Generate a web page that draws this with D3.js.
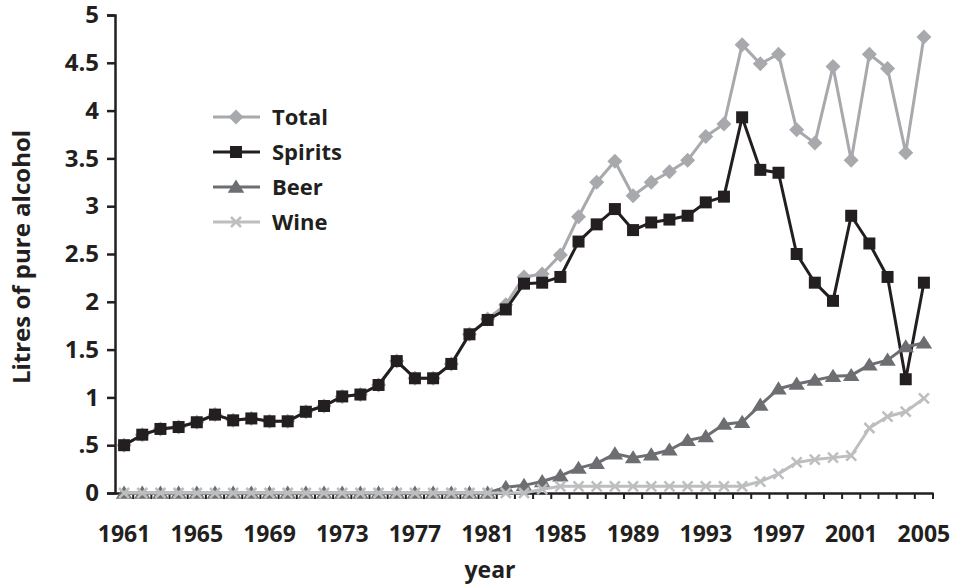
<!DOCTYPE html>
<html>
<head>
<meta charset="utf-8">
<script src="https://cdn.jsdelivr.net/npm/d3@7"></script>
<style>
  body { margin: 0; background: #fff; }
  text { font-family: "Open Sans", sans-serif; font-weight: 700; fill: #231f20; }
</style>
</head>
<body>
<div id="chart"></div>
<script>
"use strict";

const years = d3.range(1961, 2006);
const yTicks = [0, 0.5, 1, 1.5, 2, 2.5, 3, 3.5, 4, 4.5, 5];
const xLabels = [1961, 1965, 1969, 1973, 1977, 1981, 1985, 1989, 1993, 1997, 2001, 2005];

const spirits = [0.50, 0.61, 0.67, 0.69, 0.74, 0.82, 0.76, 0.78, 0.75, 0.75,
  0.85, 0.91, 1.01, 1.03, 1.13, 1.38, 1.20, 1.20, 1.35, 1.66,
  1.81, 1.92, 2.19, 2.20, 2.26, 2.63, 2.81, 2.97, 2.75, 2.83,
  2.86, 2.90, 3.04, 3.10, 3.93, 3.38, 3.35, 2.50, 2.20, 2.01,
  2.90, 2.61, 2.26, 1.19, 2.20];
const beer = [0, 0, 0, 0, 0, 0, 0, 0, 0, 0,
  0, 0, 0, 0, 0, 0, 0, 0, 0, 0,
  0, 0.06, 0.08, 0.12, 0.18, 0.26, 0.31, 0.41, 0.37, 0.40,
  0.45, 0.55, 0.59, 0.72, 0.74, 0.92, 1.09, 1.14, 1.18, 1.22,
  1.23, 1.34, 1.39, 1.53, 1.57];
const wine = [0, 0, 0, 0, 0, 0, 0, 0, 0, 0,
  0, 0, 0, 0, 0, 0, 0, 0, 0, 0,
  0, 0, 0, 0.04, 0.07, 0.07, 0.07, 0.07, 0.07, 0.07,
  0.07, 0.07, 0.07, 0.07, 0.07, 0.12, 0.20, 0.32, 0.35, 0.37,
  0.39, 0.68, 0.80, 0.85, 0.99];
const total = [0.50, 0.61, 0.67, 0.69, 0.74, 0.82, 0.76, 0.78, 0.75, 0.75,
  0.85, 0.91, 1.01, 1.03, 1.13, 1.38, 1.20, 1.20, 1.35, 1.66,
  1.82, 1.97, 2.26, 2.29, 2.49, 2.89, 3.25, 3.47, 3.11, 3.25,
  3.36, 3.48, 3.73, 3.86, 4.69, 4.49, 4.59, 3.80, 3.66, 4.46,
  3.48, 4.59, 4.44, 3.56, 4.77];

const width = 955, height = 585;
const plotLeft = 115, plotRight = 933, plotTop = 15, plotBottom = 493;
const fontSize = 23;

// marker shapes
function diamond(r) { return `M0,${-r}L${r},0L0,${r}L${-r},0Z`; }
function square(r) { return `M${-r},${-r}H${r}V${r}H${-r}Z`; }
function triangle(r) { return `M0,${-r}L${r * 1.1},${r * 0.75}L${-r * 1.1},${r * 0.75}Z`; }
function cross(r) { return `M${-r},${-r}L${r},${r}M${r},${-r}L${-r},${r}`; }

const series = [
  { name: "Total", values: total, color: "#a7a9ac", marker: diamond(7.5), filled: true },
  { name: "Spirits", values: spirits, color: "#231f20", marker: square(6), filled: true },
  { name: "Beer", values: beer, color: "#6d6e71", marker: triangle(7.5), filled: true },
  { name: "Wine", values: wine, color: "#bcbec0", marker: cross(5), filled: false }
];

const svg = d3.select("#chart").append("svg")
  .attr("width", width)
  .attr("height", height);

const x = d3.scaleBand().domain(years).range([plotLeft, plotRight]);
const cx = d => x(d) + x.bandwidth() / 2;
const y = d3.scaleLinear().domain([0, 5]).range([plotBottom, plotTop]);

// Y axis
const yAxis = svg.append("g")
  .attr("transform", `translate(${plotLeft},0)`)
  .call(d3.axisLeft(y).tickValues(yTicks).tickSize(8).tickPadding(8)
    .tickFormat(d => d === 0.5 ? ".5" : String(d)));
yAxis.selectAll("path, line").attr("stroke", "#231f20").attr("stroke-width", 2.5);
yAxis.selectAll("text").attr("font-size", fontSize + 1).attr("font-family", null);

// X axis: labels centred on categories, ticks on category boundaries
const xAxis = svg.append("g")
  .attr("transform", `translate(0,${plotBottom})`)
  .call(d3.axisBottom(x).tickValues(xLabels).tickSize(0).tickPadding(33));
xAxis.select(".domain").attr("stroke", "#231f20").attr("stroke-width", 2.5);
xAxis.selectAll("text").attr("font-size", fontSize).attr("font-family", null);

const bounds = years.map(d => x(d)).concat([plotRight]);
svg.append("g").selectAll("line")
  .data(bounds.slice(1))
  .join("line")
  .attr("x1", d => d).attr("x2", d => d)
  .attr("y1", plotBottom).attr("y2", plotBottom + 6)
  .attr("stroke", "#231f20")
  .attr("stroke-width", 2);

// Axis titles
svg.append("text")
  .attr("transform", "translate(30,257) rotate(-90)")
  .attr("text-anchor", "middle")
  .attr("font-size", fontSize + 1)
  .text("Litres of pure alcohol");

svg.append("text")
  .attr("x", 490)
  .attr("y", 578)
  .attr("text-anchor", "middle")
  .attr("font-size", fontSize)
  .text("year");

// Lines and markers
const line = d3.line().x((d, i) => cx(years[i])).y(d => y(d));

series.forEach(s => {
  const g = svg.append("g");
  g.append("path")
    .attr("d", line(s.values))
    .attr("fill", "none")
    .attr("stroke", s.color)
    .attr("stroke-width", 3)
    .attr("stroke-linejoin", "round");
  g.selectAll("path.m")
    .data(s.values)
    .join("path")
    .attr("class", "m")
    .attr("transform", (d, i) => `translate(${cx(years[i])},${y(d)})`)
    .attr("d", s.marker)
    .attr("fill", s.filled ? s.color : "none")
    .attr("stroke", s.color)
    .attr("stroke-width", s.filled ? 0 : 2.5);
});

// Legend
const legend = svg.append("g");
series.forEach((s, i) => {
  const ly = 117 + i * 35;
  legend.append("line")
    .attr("x1", 213).attr("x2", 260)
    .attr("y1", ly).attr("y2", ly)
    .attr("stroke", s.color)
    .attr("stroke-width", 3);
  legend.append("path")
    .attr("transform", `translate(236,${ly})`)
    .attr("d", s.marker)
    .attr("fill", s.filled ? s.color : "none")
    .attr("stroke", s.color)
    .attr("stroke-width", s.filled ? 0 : 2.5);
  legend.append("text")
    .attr("x", 272)
    .attr("y", ly)
    .attr("dy", "0.35em")
    .attr("font-size", fontSize - 1)
    .text(s.name);
});
</script>
</body>
</html>
